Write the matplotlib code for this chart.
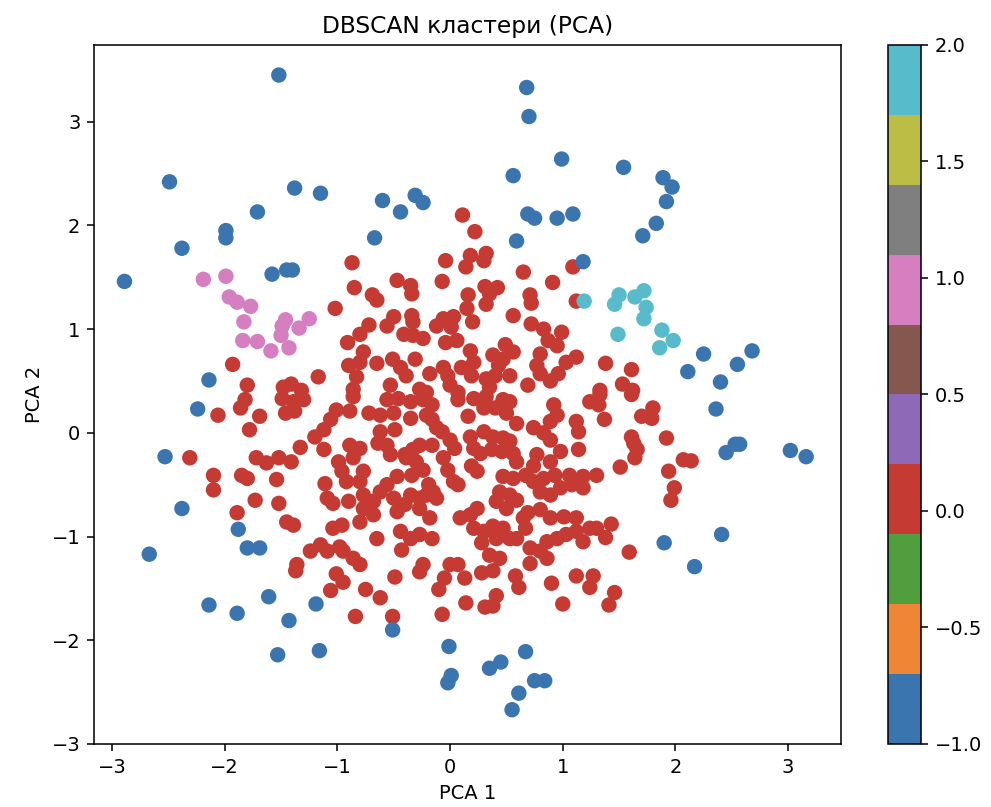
import numpy as np
import matplotlib.pyplot as plt
from matplotlib.colors import ListedColormap

# noise points (label -1)
noise_x = [-1.52, 0.68, 0.70, 0.99, 1.54, 1.89, 1.97, 1.92, 1.83, 1.71, 0.56, -0.60, -0.31, -0.24,
           -0.44, 0.69, 0.75, 0.95, 1.09, -1.71, -2.49, -1.38, -1.15, -1.99, -1.99, -2.38, -2.89,
           -1.58, -1.45, -1.40, -0.67, 0.59, 1.18, -2.14, 2.25, 2.11, 2.40, 2.55, 2.68, -2.24,
           -2.53, -2.38, -1.88, -1.80, -1.69, -2.67, 2.36, 2.45, 2.53, 2.57, 3.02, 3.16, 2.41,
           1.90, 2.17, -2.14, -1.89, -1.61, -1.43, -1.19, -1.53, -1.16, -0.51, -0.01, 0.01, -0.02,
           0.35, 0.45, 0.67, 0.75, 0.84, 0.61, 0.55]
noise_y = [3.45, 3.33, 3.05, 2.64, 2.56, 2.46, 2.37, 2.23, 2.02, 1.90, 2.48, 2.24, 2.29, 2.22,
           2.13, 2.11, 2.07, 2.07, 2.11, 2.13, 2.42, 2.36, 2.31, 1.95, 1.88, 1.78, 1.46,
           1.53, 1.57, 1.57, 1.88, 1.85, 1.65, 0.51, 0.76, 0.59, 0.49, 0.66, 0.79, 0.23,
           -0.23, -0.73, -0.93, -1.11, -1.11, -1.17, 0.23, -0.19, -0.11, -0.11, -0.17, -0.23, -0.98,
           -1.06, -1.29, -1.66, -1.74, -1.58, -1.81, -1.65, -2.14, -2.10, -1.90, -2.06, -2.34, -2.41,
           -2.27, -2.21, -2.11, -2.39, -2.39, -2.51, -2.67]

# cluster 1 (pink)
c1_x = [-2.19, -1.99, -1.96, -1.89, -1.77, -1.83, -1.46, -1.49, -1.25, -1.34, -1.84, -1.71,
        -1.50, -1.59, -1.43]
c1_y = [1.48, 1.51, 1.31, 1.26, 1.22, 1.07, 1.09, 1.03, 1.10, 1.01, 0.89, 0.88,
        0.94, 0.79, 0.82]

# cluster 2 (cyan)
c2_x = [1.19, 1.50, 1.46, 1.64, 1.72, 1.74, 1.72, 1.49, 1.88, 1.98, 1.86]
c2_y = [1.27, 1.33, 1.24, 1.31, 1.37, 1.21, 1.10, 0.95, 0.99, 0.89, 0.82]

# cluster 0 (red)
c0_x = [-1.02, -0.91, -0.90, -1.93, -1.17, -1.80, -1.48, -1.41, -1.32,
        0.11, 0.22, -0.87, -0.04, 0.18, 0.32, 0.30, 0.14, 1.09, 0.65, 0.91, -0.47, -0.35, -0.34,
        -0.07, -0.85, -0.69, -0.65, 0.31, 0.42, 0.35, 0.32, 0.16, 0.15, 0.71, 0.72, 1.12, 0.56,
        -0.50, -0.56, -0.34, -0.33, -0.72, -0.80, -0.06, 0.03, -0.12, 0.01, 0.20, 0.72, 0.83,
        0.87, 0.99, -0.41, -0.33, -0.24, -0.04, 0.06, 0.49, 0.56, 0.18, 0.21, 0.80, 0.77, 0.80,
        0.95, 1.12, 1.03, -0.77, -0.80, -0.65, -0.51, -0.44, -0.39, -0.31, -0.18, -0.06, -0.02,
        0.10, 0.19, 0.38, 0.47, 0.43, 0.40, 0.53, 0.32, 0.35, 0.69, 0.89, 0.96, -0.83, -0.86,
        -0.53, -0.27, -0.21, 0.00, 0.07,
        1.38, 1.61, 1.53, 1.62, 1.33,
        -2.06, -1.86, -1.82, -1.69, -1.78, -1.49, -1.46, -1.38, -1.39, -1.30, -1.20, -1.12, -1.06,
        -1.01, -1.33, -1.12, -2.31, -1.72, -1.63, -1.52, -1.41, -2.10, -2.10, -1.85, -1.80, -1.54,
        -0.99, -0.96, -1.11, -1.73, -1.52, -1.09, -1.04, -1.89, -1.45, -1.39, -1.04, -0.96, -1.15,
        -1.24, -1.09, -0.98, -1.36,
        1.32, 1.33, 1.61, 1.37, 1.70, 1.79, 1.80, 1.92, 1.61, 1.63, 1.66, 1.64, 2.07, 2.14, 1.51,
        1.30, 1.94, 1.99, 1.96, 1.43, 1.30, 1.38, 1.59,
        -1.37, -1.06, -1.01, -0.95,
        -0.75, -0.62, -0.49, -0.84, -0.51, -0.27, -0.10, -0.05, -0.07, 0.13, 0.14, 0.28, 0.38,
        0.31, 0.38, 0.41, 0.58, 0.61, 0.90, 1.00, 1.12, 1.24, 1.27, 1.46, 1.41,
        -0.86, -0.89, -0.56, -0.46, -0.35, -0.24, -0.16, -0.72, -0.62, -0.50, -0.35, -0.21, -0.16,
        0.07, 0.21, 0.32, 0.47, 0.53, 0.16, 0.30, 0.40, 0.50, 0.59, 0.92, 0.95, 0.89, 1.12, 1.14,
        1.24, -0.62, -0.49, -0.64, -0.56, -0.12, -0.07, 0.00, 0.04, -0.27, -0.16, -0.33, -0.40,
        0.18, 0.30, 0.38, 0.47, 0.53, 0.74, 0.83, 0.89, 0.37, 0.46, 0.56, 0.59, 0.21, 0.27, 1.14,
        -0.89, -0.80, -0.86, -0.53, 0.77, 0.98, 0.89, 0.74, -0.06, -0.02, 0.03, -0.39, -0.30,
        0.24, 0.19, -0.24, -0.34, -0.47, -0.56, -0.62, -0.77, -0.80, -0.92, 0.47, 0.56, 0.67,
        0.74, 0.83, 0.93, 1.06, 1.18, -0.19, -0.15, 0.07, -0.90, -0.77, -0.68, -0.50, -0.40,
        -0.35, -0.27, -0.21, -0.12, -0.47, -0.27, -0.18, 0.44, 0.53, 0.41, 0.50, 0.59, 0.80,
        0.89, 0.98, 1.08, 1.18, 0.24, 0.18, 0.09, -0.77, -0.68, -0.80, 0.69, 0.80, 0.89, 1.01,
        1.12, 1.24, -0.65, -0.44, -0.35, -0.27, -0.16, -0.43, 0.21, 0.30, 0.38, 0.47, 0.53, 0.41,
        0.28, 0.65, 0.67, 0.59, 0.71, 0.80, 0.86, 0.95, 1.03, 1.12, 1.18, -0.86, -0.80, -0.95,
        -0.24, 0.00, 0.07, 0.35, 0.44, 0.71, 0.86]
c0_y = [1.20, 0.87, 0.65, 0.66, 0.54, 0.46, 0.44, 0.47, 0.41,
        2.10, 1.94, 1.64, 1.66, 1.71, 1.73, 1.66, 1.60, 1.60, 1.55, 1.45, 1.47, 1.42, 1.34,
        1.46, 1.40, 1.33, 1.28, 1.41, 1.40, 1.34, 1.24, 1.33, 1.20, 1.33, 1.25, 1.27, 1.13,
        1.12, 1.03, 1.13, 1.07, 1.04, 0.95, 1.10, 1.12, 1.03, 1.02, 1.07, 1.05, 1.00,
        0.89, 0.97, 0.95, 0.94, 0.91, 0.87, 0.89, 0.85, 0.78, 0.79, 0.68, 0.76, 0.65, 0.57,
        0.84, 0.73, 0.68, 0.78, 0.68, 0.67, 0.71, 0.63, 0.55, 0.71, 0.57, 0.63, 0.55,
        0.63, 0.55, 0.75, 0.71, 0.65, 0.55, 0.55, 0.52, 0.44, 0.46, 0.50, 0.57, 0.54, 0.42,
        0.46, 0.42, 0.39, 0.46, 0.39,
        0.67, 0.61, 0.47, 0.41, 0.41,
        0.17, 0.24, 0.32, 0.16, 0.03, 0.33, 0.19, 0.21, 0.30, 0.32, -0.04, 0.03, 0.13,
        0.22, -0.14, -0.16, -0.24, -0.24, -0.29, -0.24, -0.28, -0.41, -0.55, -0.41, -0.44, -0.45,
        -0.28, -0.37, -0.49, -0.65, -0.68, -0.63, -0.68, -0.77, -0.86, -0.89, -0.92, -0.89, -1.08,
        -1.14, -1.14, -1.10, -1.27,
        0.27, 0.37, 0.37, 0.13, 0.16, 0.14, 0.24, -0.05, -0.04, -0.10, -0.16, -0.24, -0.26, -0.27, -0.33,
        -0.41, -0.37, -0.53, -0.65, -0.88, -0.92, -1.01, -1.15,
        -1.33, -1.52, -1.36, -1.44,
        -1.51, -1.59, -1.39, -1.77, -1.77, -1.34, -1.51, -1.40, -1.75, -1.40, -1.64, -1.35, -1.33,
        -1.68, -1.67, -1.57, -1.38, -1.49, -1.45, -1.65, -1.38, -1.49, -1.38, -1.54, -1.66,
        0.35, 0.21, 0.32, 0.33, 0.30, 0.32, 0.27, 0.19, 0.17, 0.19, 0.14, 0.17, 0.13,
        0.32, 0.33, 0.35, 0.32, 0.30, 0.16, 0.24, 0.24, 0.19, 0.09, 0.27, 0.17, 0.11, 0.11, 0.01,
        0.30, 0.01, 0.03, -0.10, -0.12, 0.05, 0.01, -0.07, -0.15, -0.12, -0.12, -0.16, -0.21,
        -0.04, 0.01, -0.04, -0.05, -0.08, 0.05, 0.00, -0.07, -0.16, -0.18, -0.20, -0.28, -0.15, -0.20, -0.16,
        -0.12, -0.15, -0.24, -0.21, -0.21, -0.18, -0.28, -0.32, -0.24, -0.36, -0.47, -0.24, -0.28,
        -0.37, -0.32, -0.36, -0.41, -0.42, -0.50, -0.57, -0.37, -0.47, -0.47, -0.42, -0.44, -0.41,
        -0.47, -0.44, -0.41, -0.41, -0.42, -0.50, -0.57, -0.50, -0.66, -0.60, -0.66, -0.63, -0.69,
        -0.60, -0.63, -0.60, -0.63, -0.76, -0.73, -0.82, -0.57, -0.60, -0.66, -0.73, -0.65, -0.57,
        -0.60, -0.53, -0.50, -0.53, -0.73, -0.79, -0.82, -0.73, -0.79, -0.86, -0.77, -0.74, -0.82, -0.81,
        -0.82, -0.92, -1.02, -0.95, -1.02, -0.98, -1.02, -1.13, -0.92, -0.95, -0.90, -0.92, -1.02, -1.02,
        -1.06, -0.82, -0.92, -1.02, -1.11, -1.14, -1.05, -1.02, -0.98, -0.95, -1.05, -1.21, -1.27, -1.14,
        -1.27, -1.27, -1.27, -1.18, -1.21, -1.26, -1.21]

# tab10 as it shows in the screenshot
tab10_shown = ['#3b75af', '#ef8636', '#519e3e', '#c53a32', '#8d69b8',
               '#84584e', '#d57ec0', '#7f7f7f', '#bcbd45', '#58bbcc']

x = np.array(c0_x + c1_x + c2_x + noise_x)
y = np.array(c0_y + c1_y + c2_y + noise_y)
labels = np.array([0] * len(c0_x) + [1] * len(c1_x) + [2] * len(c2_x) + [-1] * len(noise_x))

fig = plt.figure(figsize=(991 / 140, 807 / 140))
ax = fig.add_axes([0.0949, 0.0781, 0.7538, 0.8662])
cax = fig.add_axes([0.896, 0.0781, 0.0333, 0.8662])

sc = ax.scatter(x, y, c=labels, cmap=ListedColormap(tab10_shown), s=48)
ax.set_xlim(-3.16, 3.47)
ax.set_ylim(-3.0, 3.74)
ax.set_title('DBSCAN кластери (PCA)')
ax.set_xlabel('PCA 1')
ax.set_ylabel('PCA 2')
fig.colorbar(sc, cax=cax)

fig.savefig('out.png', dpi=140)
